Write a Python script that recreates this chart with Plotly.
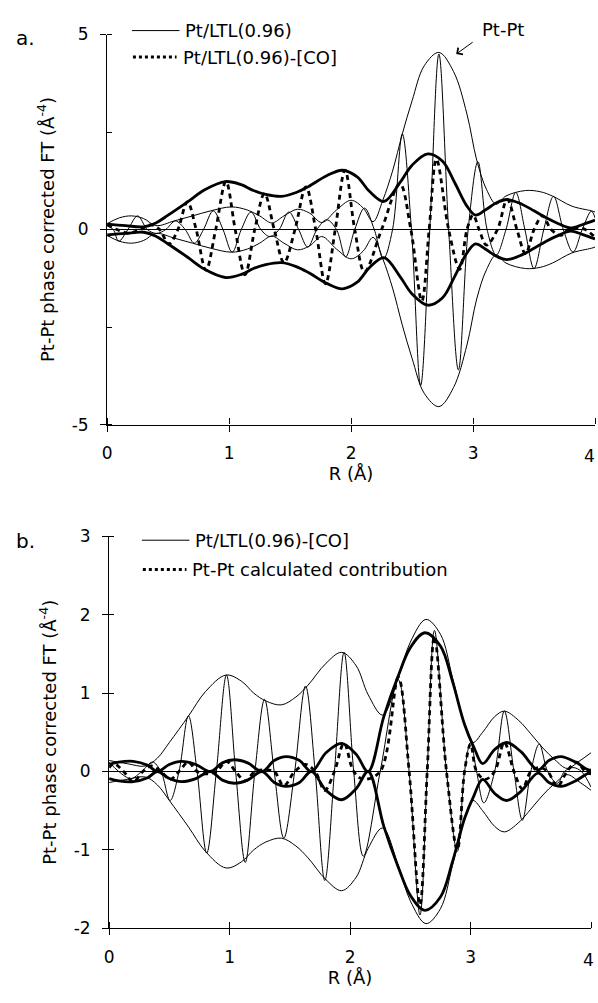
import plotly.graph_objects as go

# ---------------- data ----------------
# Panel a, Pt/LTL(0.96): magnitude envelope and imaginary part
magA_R = [0.0, 0.1, 0.2, 0.3, 0.4, 0.55, 0.7, 0.85, 1.02, 1.15, 1.25, 1.35, 1.45, 1.56, 1.66, 1.76,
          1.88, 2.0, 2.1, 2.18, 2.26, 2.34, 2.42, 2.5, 2.6, 2.72, 2.84, 2.95, 3.03, 3.11, 3.19, 3.27,
          3.43, 3.55, 3.65, 3.81, 3.97, 4.0]
magA = [0.15, 0.3, 0.35, 0.28, 0.1, 0.22, 0.35, 0.48, 0.58, 0.5, 0.35, 0.17, 0.35, 0.52, 0.42, 0.18,
        0.5, 0.75, 0.55, 0.2, 0.75, 1.5, 2.45, 3.3, 4.2, 4.54, 4.05, 2.96, 1.78, 1.03, 0.65, 0.86,
        1.0, 0.97, 0.86, 0.6, 0.48, 0.45]
imA_R = [0.0, 0.05, 0.095, 0.17, 0.25, 0.33, 0.405, 0.48, 0.56, 0.64, 0.715, 0.79, 0.87, 0.95, 1.025,
         1.10, 1.18, 1.26, 1.335, 1.41, 1.49, 1.57, 1.645, 1.72, 1.80, 1.88, 1.955, 2.03, 2.11, 2.19,
         2.265, 2.34, 2.42, 2.495, 2.57, 2.645, 2.72, 2.80, 2.88, 2.96, 3.04, 3.115, 3.19, 3.27, 3.35,
         3.425, 3.5, 3.58, 3.66, 3.74, 3.82, 3.895, 3.97, 4.0]
imA = [0.1, 0, -0.3, 0, 0.35, 0, -0.1, 0, 0.22, 0, -0.35, 0, 0.48, 0, -0.58,
       0, 0.45, 0, -0.18, 0, 0.45, 0, -0.45, 0, 0.25, 0, -0.7, 0, 0.55, 0,
       -0.75, 0, 2.45, 0, -4.0, 0, 4.5, 0, -3.6, 0, 1.74, 0, -0.65, 0, 0.95,
       0, -1.0, 0, 0.85, 0, -0.58, 0, 0.47, 0.3]

# Pt/LTL(0.96)-[CO] (thick in panel a, thin in panel b)
magCO_R = [0.0, 0.15, 0.3, 0.4, 0.5, 0.66, 0.8, 0.97, 1.1, 1.2, 1.3, 1.43, 1.55, 1.65, 1.8, 1.93,
           2.05, 2.15, 2.27, 2.4, 2.5, 2.63, 2.75, 2.85, 2.95, 3.02, 3.1, 3.2, 3.28, 3.4, 3.5, 3.6,
           3.7, 3.8, 3.9, 4.0]
magCO = [0.14, 0.1, 0.07, 0.17, 0.37, 0.71, 1.02, 1.23, 1.15, 1.0, 0.9, 0.85, 0.95, 1.1, 1.38, 1.52,
         1.35, 0.98, 0.72, 1.2, 1.65, 1.94, 1.75, 1.2, 0.6, 0.37, 0.5, 0.7, 0.77, 0.65, 0.48, 0.3,
         0.15, 0.04, 0.13, 0.24]
imCO_R = [0.0, 0.08, 0.18, 0.27, 0.36, 0.43, 0.506, 0.58, 0.658, 0.73, 0.81, 0.89, 0.974, 1.05, 1.13,
          1.21, 1.29, 1.37, 1.45, 1.54, 1.63, 1.71, 1.79, 1.87, 1.95, 2.03, 2.11, 2.25, 2.40, 2.49,
          2.58, 2.64, 2.70, 2.80, 2.89, 2.95, 3.0, 3.05, 3.11, 3.2, 3.28, 3.36, 3.43, 3.5, 3.57,
          3.64, 3.72, 3.78, 3.85, 3.92, 4.0]
imCO = [0.12, 0, -0.09, 0, 0.12, 0, -0.37, 0, 0.71, 0, -1.04, 0, 1.23, 0, -1.16,
        0, 0.92, 0, -0.85, 0, 1.09, 0, -1.39, 0, 1.52, 0, -1.08, 0, 1.17, 0,
        -1.83, 0, 1.8, 0, -1.02, 0, 0.37, 0, -0.4, 0, 0.77, 0, -0.62, 0, 0.35,
        0, -0.15, 0, 0.05, 0, -0.2]

# Pt-Pt calculated contribution (panel b, thick)
magC_R = [0.0, 0.08, 0.2, 0.32, 0.4, 0.5, 0.6, 0.72, 0.84, 0.94, 1.04, 1.15, 1.27, 1.37, 1.47, 1.58,
          1.68, 1.8, 1.93, 2.05, 2.15, 2.28, 2.4, 2.5, 2.62, 2.75, 2.85, 2.95, 3.03, 3.1, 3.2, 3.3,
          3.42, 3.56, 3.65, 3.75, 3.87, 3.98, 4.0]
magC = [0.09, 0.12, 0.13, 0.08, 0.0, 0.09, 0.13, 0.09, 0.0, 0.11, 0.15, 0.11, 0.0, 0.14, 0.19, 0.14,
        0.0, 0.24, 0.36, 0.22, 0.0, 0.7, 1.22, 1.58, 1.77, 1.6, 1.15, 0.6, 0.3, 0.1, 0.28, 0.37,
        0.25, 0.02, 0.14, 0.19, 0.12, 0.02, 0.02]
imC_R = [0.0, 0.04, 0.12, 0.2, 0.28, 0.35, 0.43, 0.506, 0.58, 0.658, 0.73, 0.81, 0.89, 0.974, 1.05,
         1.13, 1.21, 1.29, 1.37, 1.45, 1.54, 1.63, 1.71, 1.79, 1.87, 1.95, 2.03, 2.11, 2.25, 2.40,
         2.49, 2.58, 2.64, 2.70, 2.80, 2.89, 2.95, 3.0, 3.05, 3.12, 3.2, 3.28, 3.36, 3.43, 3.5,
         3.57, 3.64, 3.72, 3.8, 3.88, 3.95, 4.0]
imC = [0.05, 0.1, 0, -0.13, 0, 0.07, 0, -0.1, 0, 0.12, 0, -0.03, 0, 0.13, 0,
       -0.12, 0, 0.02, 0, -0.18, 0, 0.09, 0, -0.24, 0, 0.36, 0, -0.1, 0, 1.2,
       0, -1.7, 0, 1.72, 0, -1.0, 0, 0.35, 0, -0.1, 0, 0.37, 0, -0.22, 0,
       0.05, 0, -0.19, 0, 0.12, 0, -0.03]

x_ticks = [0, 1, 2, 3, 4]
x_labels = ["0", "1", "2", "3", ""]   # the last label is drawn as an annotation (right edge)
x_last_label = "4"
ya_ticks = [-5, -2.5, 0, 2.5, 5]
ya_labels = ["-5", "", "0", "", "5"]
yb_ticks = [-2, -1, 0, 1, 2, 3]
yb_labels = ["-2", "-1", "0", "1", "2", "3"]

legend_a = ["Pt/LTL(0.96)", "Pt/LTL(0.96)-[CO]"]
legend_b = ["Pt/LTL(0.96)-[CO]", "Pt-Pt calculated contribution"]

# ---------------- figure ----------------
W, H = 598, 1003
FONT = "DejaVu Sans, Liberation Sans, sans-serif"
TXT = 18
TICK = 17
fig = go.Figure()

THIN = 1.0
THICK = 2.8
SM = 1.0


def add(xs, ys, width, ax, dash="solid", neg=False):
    yy = [-v for v in ys] if neg else ys
    fig.add_trace(go.Scatter(x=xs, y=yy, mode="lines", xaxis=ax[0], yaxis=ax[1],
                             line=dict(color="black", width=width, dash=dash, shape="spline",
                                       smoothing=SM),
                             showlegend=False, hoverinfo="skip"))


A = ("x", "y")
B = ("x2", "y2")
# panel a
add(magA_R, magA, THIN, A)
add(magA_R, magA, THIN, A, neg=True)
add(imA_R, imA, THIN, A)
add(magCO_R, magCO, THICK, A)
add(magCO_R, magCO, THICK, A, neg=True)
add(imCO_R, imCO, THICK, A, dash="5px,4px")
# panel b
add(magCO_R, magCO, THIN, B)
add(magCO_R, magCO, THIN, B, neg=True)
add(imCO_R, imCO, THIN, B)
add(magC_R, magC, THICK, B)
add(magC_R, magC, THICK, B, neg=True)
add(imC_R, imC, THICK, B, dash="5px,4px")


def px_x(p):
    return p / W


def px_y(p):
    return 1 - p / H


xa_dom = [px_x(103), px_x(595)]
ya_dom = [px_y(423), px_y(25)]
xb_dom = [px_x(105), px_x(591)]
yb_dom = [px_y(937), px_y(537)]

axis_common = dict(showgrid=False, showline=True, linecolor="black", linewidth=1.2,
                   ticks="outside", ticklen=6, tickwidth=1.2, tickcolor="black",
                   tickfont=dict(family=FONT, size=TICK, color="black"))
xaxis_common = dict(axis_common, tickvals=x_ticks, ticktext=x_labels, range=[0, 4],
                    ticklabelstandoff=7, zeroline=False,
                    minor=dict(tickvals=x_ticks, ticks="inside", ticklen=6, tickwidth=1.2,
                               tickcolor="black"),
                    title=dict(text="R (Å)", font=dict(family=FONT, size=TXT), standoff=3))
ytitle = "Pt-Pt phase corrected FT (Å<sup>-4</sup>)"
yaxis_common = dict(axis_common, zeroline=True, zerolinecolor="black", zerolinewidth=1,
                    ticklabelstandoff=8,
                    title=dict(text=ytitle, font=dict(family=FONT, size=TXT), standoff=12))

fig.update_layout(
    width=W, height=H, margin=dict(l=0, r=0, t=0, b=0), autosize=False,
    plot_bgcolor="white", paper_bgcolor="white",
    font=dict(family=FONT, size=TXT, color="black"),
    xaxis=dict(xaxis_common, domain=xa_dom, anchor="y"),
    yaxis=dict(yaxis_common, domain=ya_dom, range=[-5, 5], tickvals=ya_ticks,
               ticktext=ya_labels, anchor="x",
               minor=dict(tickvals=ya_ticks, ticks="inside", ticklen=5, tickwidth=1.2,
                          tickcolor="black")),
    xaxis2=dict(xaxis_common, domain=xb_dom, anchor="y2"),
    yaxis2=dict(yaxis_common, domain=yb_dom, range=[-2, 3], tickvals=yb_ticks,
                ticktext=yb_labels, anchor="x2",
                minor=dict(tickvals=yb_ticks, ticks="inside", ticklen=5, tickwidth=1.2,
                           tickcolor="black")),
)

shapes = []
ann = []


def legend_entry(x0, x1, yc, text, dash, width):
    shapes.append(dict(type="line", xref="paper", yref="paper", x0=px_x(x0), x1=px_x(x1),
                       y0=px_y(yc), y1=px_y(yc), line=dict(color="black", width=width,
                                                            dash=dash)))
    ann.append(dict(xref="paper", yref="paper", x=px_x(x1 + 4), y=px_y(yc), text=text,
                    showarrow=False, xanchor="left", yanchor="middle",
                    font=dict(family=FONT, size=TXT, color="black")))


legend_entry(128, 176, 21, legend_a[0], "solid", 1)
legend_entry(129, 173, 48, legend_a[1], "dot", 3)
legend_entry(138, 186, 541, legend_b[0], "solid", 1)
legend_entry(139, 183, 571, legend_b[1], "dot", 3)

# last x tick label of each panel, kept inside the page
ann.append(dict(xref="paper", yref="paper", x=px_x(597), y=px_y(455), text=x_last_label,
                showarrow=False, xanchor="right", yanchor="middle",
                font=dict(family=FONT, size=TICK, color="black")))
ann.append(dict(xref="paper", yref="paper", x=px_x(596), y=px_y(969), text=x_last_label,
                showarrow=False, xanchor="right", yanchor="middle",
                font=dict(family=FONT, size=TICK, color="black")))

ann.append(dict(xref="paper", yref="paper", x=px_x(21), y=px_y(29), text="a.",
                showarrow=False, xanchor="center", yanchor="middle",
                font=dict(family=FONT, size=20, color="black")))
ann.append(dict(xref="paper", yref="paper", x=px_x(21), y=px_y(542), text="b.",
                showarrow=False, xanchor="center", yanchor="middle",
                font=dict(family=FONT, size=20, color="black")))
# Pt-Pt label with arrow pointing to the main peak
ann.append(dict(xref="paper", yref="paper", x=px_x(455), y=px_y(45), text="",
                showarrow=True, arrowhead=4, arrowsize=1.6, arrowwidth=1,
                arrowcolor="black", ax=18, ay=-13))
ann.append(dict(xref="paper", yref="paper", x=px_x(502), y=px_y(20), text="Pt-Pt",
                showarrow=False, xanchor="center", yanchor="middle",
                font=dict(family=FONT, size=TXT, color="black")))
fig.update_layout(shapes=shapes, annotations=ann)

# pin the 598x1003 figure to the top-left corner of the page so it fills the window 1:1
PAGE_JS = (
    "var d=document.documentElement,b=document.body;"
    "d.style.margin='0';d.style.padding='0';d.style.overflow='hidden';"
    "d.style.width='598px';d.style.height='1003px';"
    "b.style.margin='0';b.style.padding='0';b.style.overflow='hidden';"
    "b.style.width='598px';b.style.height='1003px';"
    "var g=document.getElementById('{plot_id}');"
    "g.style.position='fixed';g.style.left='0px';g.style.top='0px';"
)
fig.write_html("out.html",
               config={"displayModeBar": False, "responsive": False},
               post_script=PAGE_JS)
